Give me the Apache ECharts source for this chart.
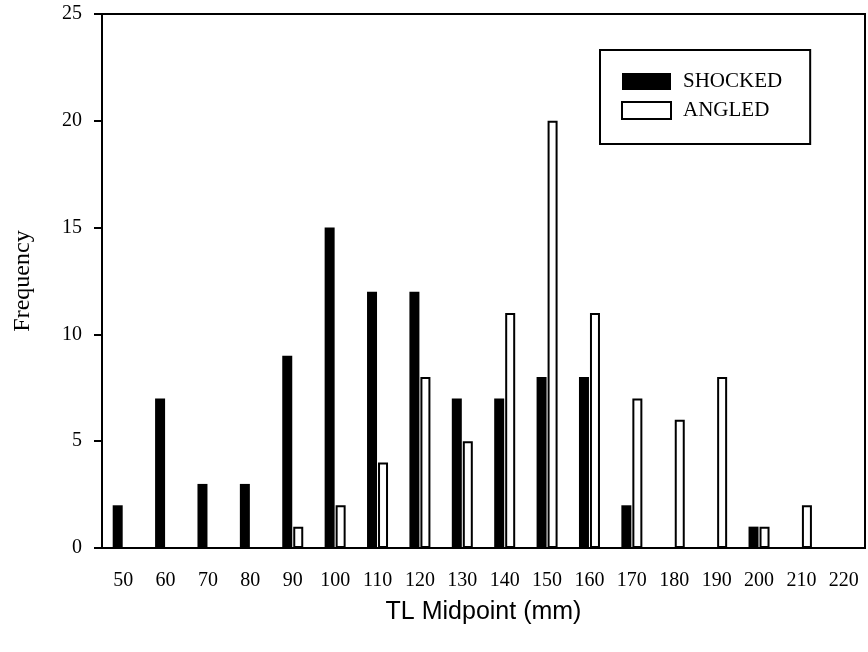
<!DOCTYPE html>
<html>
<head>
    <meta charset="utf-8">
    <title>TL Midpoint Frequency</title>
    <script src="https://cdn.jsdelivr.net/npm/echarts@6/dist/echarts.min.js"></script>
</head>
<body style="margin:0;background:#fff;">
    <div id="main" style="width: 868px;height:652px;"></div>
    <script type="text/javascript">
        // TL midpoint classes (mm)
        var midpoints = ['50', '60', '70', '80', '90', '100', '110', '120', '130',
                         '140', '150', '160', '170', '180', '190', '200', '210', '220'];
        // frequencies
        var shocked = [2, 7, 3, 3, 9, 15, 12, 12, 7, 7, 8, 8, 2, 0, 0, 1, 0, 0];
        var angled  = [0, 0, 0, 0, 1, 2, 4, 8, 5, 11, 20, 11, 7, 6, 8, 1, 2, 0];
        var yTicks = [0, 5, 10, 15, 20, 25];

        var serif = '"Liberation Serif", "DejaVu Serif", serif';
        var myChart = echarts.init(document.getElementById('main'));

        var option = {
            animation: false,
            backgroundColor: '#fff',
            grid: {
                left: 102, right: 3, top: 14, bottom: 104,
                show: true,
                borderColor: '#000',
                borderWidth: 2,
                containLabel: false,
                outerBoundsMode: 'none'
            },
            legend: {
                orient: 'vertical',
                left: 600,
                top: 50,
                padding: [21, 28, 23, 21],
                itemGap: 8,
                itemWidth: 49,
                itemHeight: 17,
                borderColor: '#000',
                borderWidth: 2,
                icon: 'rect',
                textStyle: {fontFamily: serif, fontSize: 21, color: '#000', padding: [0, 0, 0, 7]},
                data: [
                    {name: 'SHOCKED', itemStyle: {color: '#000', borderWidth: 0}},
                    {name: 'ANGLED', itemStyle: {color: '#fff', borderColor: '#000', borderWidth: 2}}
                ]
            },
            xAxis: {
                type: 'category',
                data: midpoints,
                boundaryGap: true,
                name: 'TL Midpoint (mm)',
                nameLocation: 'middle',
                nameGap: 52,
                nameTextStyle: {fontFamily: '"Liberation Sans", Arial, sans-serif', fontSize: 25, color: '#000'},
                axisLine: {lineStyle: {color: '#000', width: 2}},
                axisTick: {alignWithLabel: true, length: 8, lineStyle: {color: '#000', width: 2}},
                axisLabel: {fontFamily: serif, fontSize: 20, color: '#000', margin: 23, interval: 0},
                splitLine: {show: false}
            },
            yAxis: {
                type: 'value',
                min: yTicks[0],
                max: yTicks[yTicks.length - 1],
                interval: 5,
                name: 'Frequency',
                nameLocation: 'middle',
                nameGap: 67,
                nameTextStyle: {fontFamily: serif, fontSize: 24, color: '#000'},
                axisLine: {show: true, lineStyle: {color: '#000', width: 2}},
                axisTick: {show: true, length: 8, lineStyle: {color: '#000', width: 2}},
                axisLabel: {fontFamily: serif, fontSize: 20, color: '#000', margin: 20},
                splitLine: {show: false}
            },
            series: [
                {
                    name: 'SHOCKED',
                    type: 'bar',
                    data: shocked,
                    barWidth: 10,
                    barGap: '10%',
                    itemStyle: {color: '#000'}
                },
                {
                    name: 'ANGLED',
                    type: 'bar',
                    data: angled,
                    barWidth: 10,
                    itemStyle: {color: '#fff', borderColor: '#000', borderWidth: 2}
                }
            ]
        };
        myChart.setOption(option);
    </script>
</body>
</html>
